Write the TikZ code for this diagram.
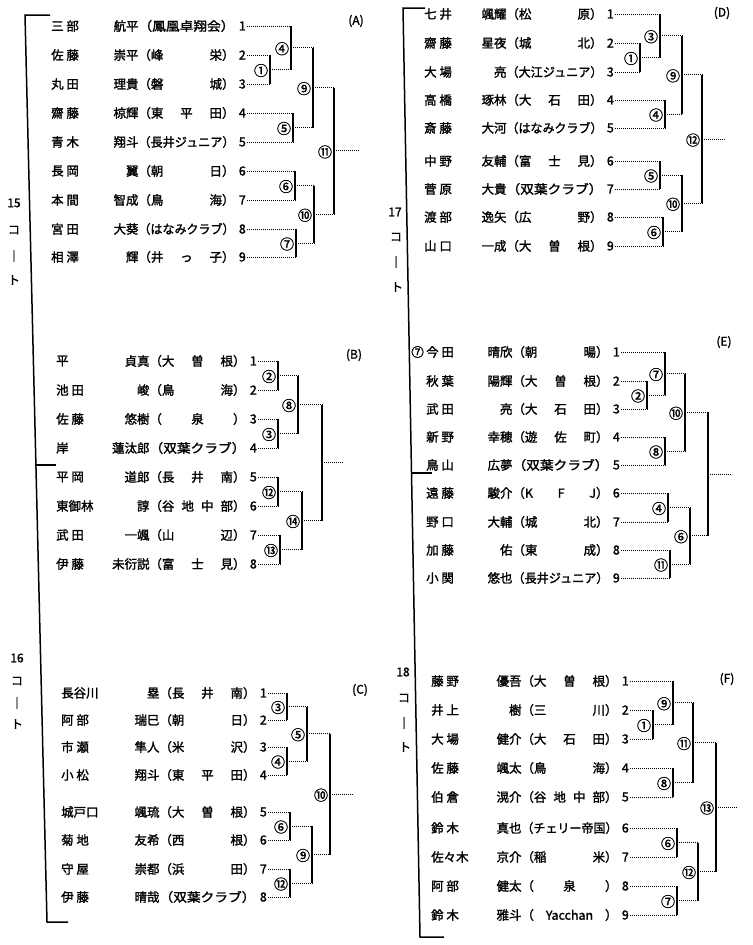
\documentclass[tikz,border=0pt]{standalone}
\usepackage{fontspec}
\setmainfont{Noto Sans CJK JP}[AutoFakeBold=1.6]
\usepackage{graphicx}
\usetikzlibrary{calc}
\newlength\afw
\setlength\afw{96bp}
\newcommand\aff[1]{\makebox[\afw][s]{（#1）}}
\newcommand\affl[1]{\resizebox{\afw}{\height}{（#1）}}
\newcommand\affc[1]{\makebox[\afw]{（\hfill#1\hfill）}}
\newcommand\plyr[8]{%
  \node[txt,anchor=west] (#1f) at (#2,#4) {#5};
  \node[txt,anchor=east] (#1) at (#3,#4) {#8};
  \node[txt,anchor=east] (#1g) at ([xshift=-2bp]#1.west) {#6#7};
}
\newcommand\bktn[4]{%
  \coordinate (vx) at (#2,0);
  \coordinate (vm) at ($(#3.east)!0.5!(#4.east)$);
  \node[pt] (#1) at (vm -| vx) {};
  \draw[hl] (#3.east) -- (#3.east -| vx);
  \draw[hl] (#4.east) -- (#4.east -| vx);
  \draw[vl] (#3.east -| vx) -- (#4.east -| vx);
}
\newcommand\bkt[5]{%
  \bktn{#1}{#2}{#3}{#4}%
  \node[circ] (c#1) at ([xshift=-9bp,yshift=-1bp]#1.center) {#5};
}
\tikzset{
  txt/.style={font=\fontsize{12.5}{13}\selectfont\bfseries, inner sep=1bp},
  circ/.style={font=\fontsize{14}{14}\selectfont\bfseries, inner sep=0pt, fill=white},
  pt/.style={inner sep=0pt, minimum size=0pt, outer sep=0pt},
  hl/.style={densely dotted, line width=1bp},
  vl/.style={line width=1.2bp},
  cl/.style={line width=1.5bp},
  lbl/.style={font=\fontsize{12}{12}\selectfont\bfseries, inner sep=0pt},
}
\begin{document}
\begin{tikzpicture}[x=1bp,y=-1bp]
\fill[white] (0,0) rectangle (753,945);
\useasboundingbox (0,0) rectangle (753,945);

% ---------- court lines ----------
\coordinate (L1a) at (50,15); \coordinate (L1b) at (25,15);
\coordinate (L1c) at (47,922); \coordinate (L1d) at (68,922);
\coordinate (L1m) at (35,465); \coordinate (L1n) at (56,465);
\draw[cl] (L1a) -- (L1b) -- (L1c) -- (L1d);
\draw[cl] (L1m) -- (L1n);
\coordinate (R1a) at (425,8); \coordinate (R1b) at (403,8);
\coordinate (R1c) at (420,937); \coordinate (R1d) at (444,937);
\coordinate (R1m) at (411,473); \coordinate (R1n) at (432,473);
\draw[cl] (R1a) -- (R1b) -- (R1c) -- (R1d);
\draw[cl] (R1m) -- (R1n);

\node[lbl] (k15a) at (14,203) {15};
\node[lbl] (k15b) at (14,230) {コ};
\node[lbl] (k15c) at (14,256) {｜};
\node[lbl] (k15d) at (14,280) {ト};
\node[lbl] (k16a) at (17,658) {16};
\node[lbl] (k16b) at (17,681) {コ};
\node[lbl] (k16c) at (17,703) {｜};
\node[lbl] (k16d) at (17,724) {ト};
\node[lbl] (k17a) at (395,212) {17};
\node[lbl] (k17b) at (396,237) {コ};
\node[lbl] (k17c) at (396,262) {｜};
\node[lbl] (k17d) at (397,287) {ト};
\node[lbl] (k18a) at (403,672) {18};
\node[lbl] (k18b) at (404,698) {コ};
\node[lbl] (k18c) at (404,723) {｜};
\node[lbl] (k18d) at (405,747) {ト};

\node[lbl] (labA) at (356,21) {(A)};
\node[lbl] (labB) at (354,355) {(B)};
\node[lbl] (labC) at (360,690) {(C)};
\node[lbl] (labD) at (722,13) {(D)};
\node[lbl] (labE) at (724,342) {(E)};
\node[lbl] (labF) at (727,679) {(F)};

% ---------- A ----------
\plyr{A1}{50}{247}{26}{三 部}{航平}{\affl{鳳凰卓翔会}}{1}
\plyr{A2}{50}{247}{55}{佐 藤}{崇平}{\aff{峰 栄}}{2}
\plyr{A3}{50}{247}{84}{丸 田}{理貴}{\aff{磐 城}}{3}
\plyr{A4}{50}{247}{113}{齋 藤}{椋輝}{\aff{東 平 田}}{4}
\plyr{A5}{50}{247}{142}{青 木}{翔斗}{\affl{長井ジュニア}}{5}
\plyr{A6}{50}{247}{171}{長 岡}{翼}{\aff{朝 日}}{6}
\plyr{A7}{50}{247}{200}{本 間}{智成}{\aff{鳥 海}}{7}
\plyr{A8}{50}{247}{229}{宮 田}{大葵}{\affl{はなみクラブ}}{8}
\plyr{A9}{50}{247}{257}{相 澤}{輝}{\aff{井 っ 子}}{9}
\bkt{mA1}{270}{A2}{A3}{①}
\bkt{mA4}{291}{A1}{mA1}{④}
\bkt{mA5}{293}{A4}{A5}{⑤}
\bkt{mA9}{313}{mA4}{mA5}{⑨}
\bkt{mA6}{295}{A6}{A7}{⑥}
\bkt{mA7}{296}{A8}{A9}{⑦}
\bkt{mA10}{314}{mA6}{mA7}{⑩}
\bkt{mA11}{334}{mA9}{mA10}{⑪}
\draw[hl] (mA11.center) -- ++(24,0) node[pt] (oA) {};

% ---------- B ----------
\plyr{B1}{55}{258}{361}{平}{貞真}{\aff{大 曽 根}}{1}
\plyr{B2}{55}{258}{390}{池 田}{峻}{\aff{鳥 海}}{2}
\plyr{B3}{55}{258}{419}{佐 藤}{悠樹}{\aff{ 泉 }}{3}
\plyr{B4}{55}{258}{448}{岸}{蓮汰郎}{\affl{双葉クラブ}}{4}
\plyr{B5}{55}{258}{477}{平 岡}{道郎}{\aff{長 井 南}}{5}
\plyr{B6}{55}{258}{506}{東御林}{諄}{\aff{谷 地 中 部}}{6}
\plyr{B7}{55}{258}{535}{武 田}{一颯}{\aff{山 辺}}{7}
\plyr{B8}{55}{258}{564}{伊 藤}{未衍説}{\aff{富 士 見}}{8}
\bkt{mB2}{278}{B1}{B2}{②}
\bkt{mB3}{278}{B3}{B4}{③}
\bkt{mB8}{298}{mB2}{mB3}{⑧}
\bkt{mB12}{278}{B5}{B6}{⑫}
\bkt{mB13}{280}{B7}{B8}{⑬}
\bkt{mB14}{302}{mB12}{mB13}{⑭}
\bktn{mBf}{322}{mB8}{mB14}
\draw[hl] (mBf.center) -- ++(21,0) node[pt] (oB) {};

% ---------- C ----------
\plyr{C1}{60}{268}{693}{長谷川}{塁}{\aff{長 井 南}}{1}
\plyr{C2}{60}{268}{720}{阿 部}{瑞巳}{\aff{朝 日}}{2}
\plyr{C3}{60}{268}{747}{市 瀬}{隼人}{\aff{米 沢}}{3}
\plyr{C4}{60}{268}{775}{小 松}{翔斗}{\aff{東 平 田}}{4}
\plyr{C5}{60}{268}{812}{城戸口}{颯琉}{\aff{大 曽 根}}{5}
\plyr{C6}{60}{268}{840}{菊 地}{友希}{\aff{西 根}}{6}
\plyr{C7}{60}{268}{869}{守 屋}{崇都}{\aff{浜 田}}{7}
\plyr{C8}{60}{268}{897}{伊 藤}{晴哉}{\affl{双葉クラブ}}{8}
\bkt{mC3}{287}{C1}{C2}{③}
\bkt{mC4}{287}{C3}{C4}{④}
\bkt{mC5}{307}{mC3}{mC4}{⑤}
\bkt{mC6}{290}{C5}{C6}{⑥}
\bkt{mC12}{290}{C7}{C8}{⑫}
\bkt{mC9}{312}{mC6}{mC12}{⑨}
\bkt{mC10}{330}{mC5}{mC9}{⑩}
\draw[hl] (mC10.center) -- ++(23,0) node[pt] (oC) {};

% ---------- D ----------
\plyr{D1}{423}{615}{14}{七 井}{颯耀}{\aff{松 原}}{1}
\plyr{D2}{423}{615}{43}{齋 藤}{星夜}{\aff{城 北}}{2}
\plyr{D3}{423}{615}{72}{大 場}{亮}{\affl{大江ジュニア}}{3}
\plyr{D4}{423}{615}{100}{高 橋}{琢林}{\aff{大 石 田}}{4}
\plyr{D5}{423}{615}{128}{斎 藤}{大河}{\affl{はなみクラブ}}{5}
\plyr{D6}{423}{615}{161}{中 野}{友輔}{\aff{富 士 見}}{6}
\plyr{D7}{423}{615}{189}{菅 原}{大貴}{\affl{双葉クラブ}}{7}
\plyr{D8}{423}{615}{217}{渡 部}{逸矢}{\aff{広 野}}{8}
\plyr{D9}{423}{615}{246}{山 口}{一成}{\aff{大 曽 根}}{9}
\bkt{mD1}{640}{D2}{D3}{①}
\bkt{mD3}{660}{D1}{mD1}{③}
\bkt{mD4}{665}{D4}{D5}{④}
\bkt{mD9}{682}{mD3}{mD4}{⑨}
\bkt{mD5}{660}{D6}{D7}{⑤}
\bkt{mD6}{663}{D8}{D9}{⑥}
\bkt{mD10}{682}{mD5}{mD6}{⑩}
\bkt{mD12}{702}{mD9}{mD10}{⑫}
\draw[hl] (mD12.center) -- ++(22,0) node[pt] (oD) {};

% ---------- E ----------
\plyr{E1}{425}{621}{352}{今 田}{晴欣}{\aff{朝 暘}}{1}
\node[txt,anchor=east] (E1m) at (E1f.west) {⑦};
\plyr{E2}{425}{621}{381}{秋 葉}{陽輝}{\aff{大 曽 根}}{2}
\plyr{E3}{425}{621}{409}{武 田}{亮}{\aff{大 石 田}}{3}
\plyr{E4}{425}{621}{437}{新 野}{幸穂}{\aff{遊 佐 町}}{4}
\plyr{E5}{425}{621}{465}{鳥 山}{広夢}{\affl{双葉クラブ}}{5}
\plyr{E6}{425}{621}{493}{遠 藤}{駿介}{\aff{K F J}}{6}
\plyr{E7}{425}{621}{522}{野 口}{大輔}{\aff{城 北}}{7}
\plyr{E8}{425}{621}{550}{加 藤}{佑}{\aff{東 成}}{8}
\plyr{E9}{425}{621}{578}{小 関}{悠也}{\affl{長井ジュニア}}{9}
\bkt{mE2}{647}{E2}{E3}{②}
\bkt{mE7}{665}{E1}{mE2}{⑦}
\bkt{mE8}{665}{E4}{E5}{⑧}
\bkt{mE10}{685}{mE7}{mE8}{⑩}
\bkt{mE4}{668}{E6}{E7}{④}
\bkt{mE11}{670}{E8}{E9}{⑪}
\bkt{mE6}{690}{mE4}{mE11}{⑥}
\bktn{mEf}{708}{mE10}{mE6}
\draw[hl] (mEf.center) -- ++(22,0) node[pt] (oE) {};

% ---------- F ----------
\plyr{F1}{430}{630}{681}{藤 野}{優吾}{\aff{大 曽 根}}{1}
\plyr{F2}{430}{630}{710}{井 上}{樹}{\aff{三 川}}{2}
\plyr{F3}{430}{630}{739}{大 場}{健介}{\aff{大 石 田}}{3}
\plyr{F4}{430}{630}{768}{佐 藤}{颯太}{\aff{鳥 海}}{4}
\plyr{F5}{430}{630}{797}{伯 倉}{滉介}{\aff{谷 地 中 部}}{5}
\plyr{F6}{430}{630}{828}{鈴 木}{真也}{\affl{チェリー帝国}}{6}
\plyr{F7}{430}{630}{857}{佐々木}{京介}{\aff{稲 米}}{7}
\plyr{F8}{430}{630}{886}{阿 部}{健太}{\aff{ 泉 }}{8}
\plyr{F9}{430}{630}{915}{鈴 木}{雅斗}{\affc{Yacchan}}{9}
\bkt{mF1}{653}{F2}{F3}{①}
\bkt{mF9}{673}{F1}{mF1}{⑨}
\bkt{mF8}{673}{F4}{F5}{⑧}
\bkt{mF11}{693}{mF9}{mF8}{⑪}
\bkt{mF6}{677}{F6}{F7}{⑥}
\bkt{mF7}{677}{F8}{F9}{⑦}
\bkt{mF12}{698}{mF6}{mF7}{⑫}
\bkt{mF13}{716}{mF11}{mF12}{⑬}
\draw[hl] (mF13.center) -- ++(21,0) node[pt] (oF) {};
\end{tikzpicture}
\end{document}
